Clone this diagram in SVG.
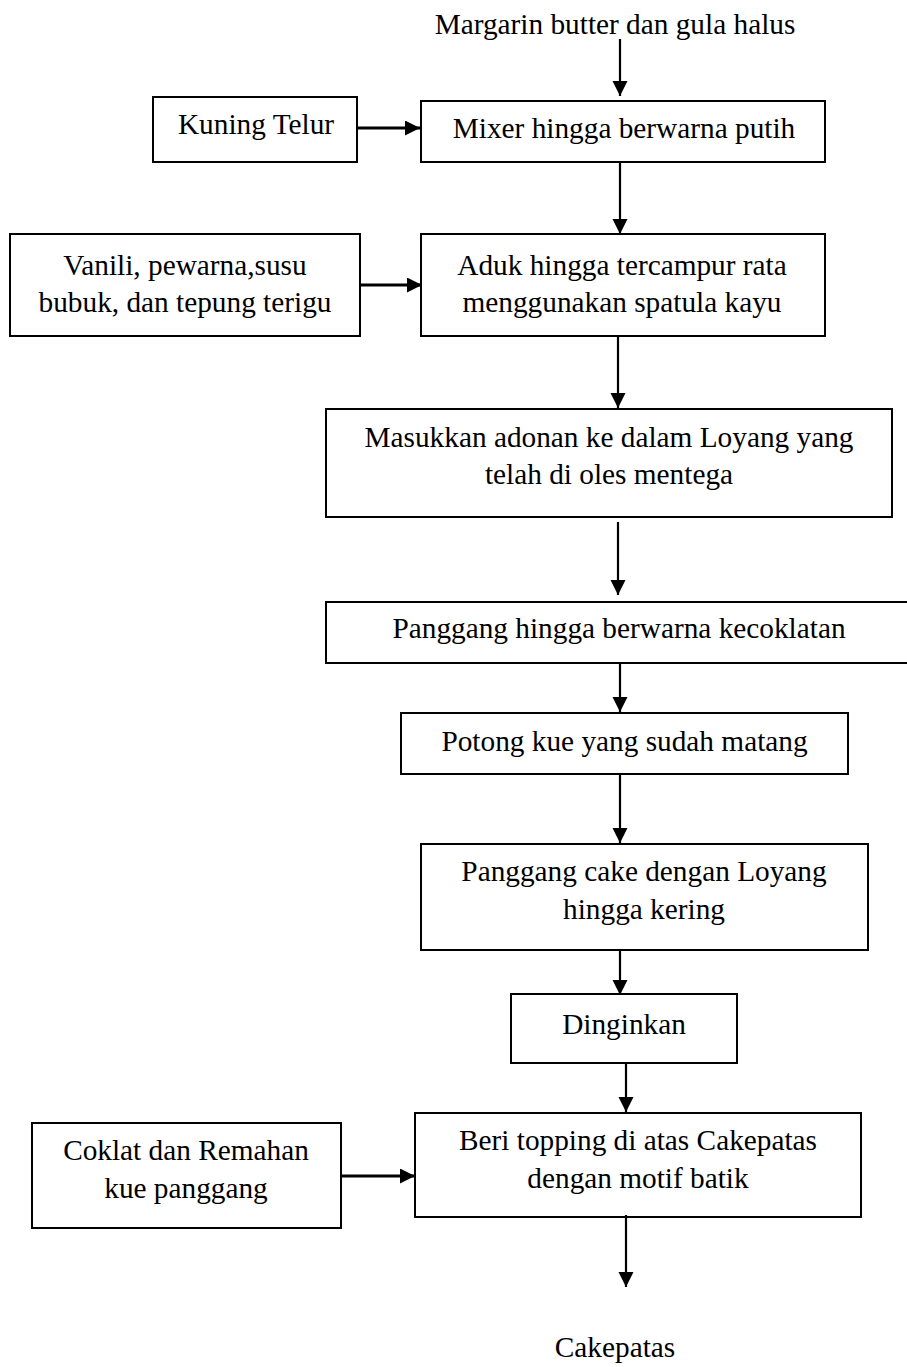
<svg xmlns="http://www.w3.org/2000/svg" width="907" height="1367" viewBox="0 0 907 1367">
<style>
rect{fill:#fff;stroke:#000;stroke-width:2}
text{font-family:"Liberation Serif","Times New Roman",serif;font-size:29.3px;fill:#000;text-anchor:middle}
.c line{stroke:#000;stroke-width:2.2;marker-end:url(#ah)}
.c line.h{stroke-width:3}
</style>
<defs>
<marker id="ah" markerUnits="userSpaceOnUse" markerWidth="16" markerHeight="16" refX="15" refY="7.5" orient="auto">
<path d="M0,0 L15,7.5 L0,15 z" fill="#000"/>
</marker>
</defs>
<rect x="0" y="0" width="907" height="1367" style="stroke:none"/>
<g id="start"><text x="615" y="34">Margarin butter dan gula halus</text></g>
<g id="kuning"><rect x="153" y="97" width="204" height="65"/><text x="256" y="134">Kuning Telur</text></g>
<g id="mixer"><rect x="421" y="101" width="404" height="61"/><text x="624" y="138">Mixer hingga berwarna putih</text></g>
<g id="vanili"><rect x="10" y="234" width="350" height="102"/><text x="185" y="275">Vanili, pewarna,susu</text><text x="185" y="312">bubuk, dan tepung terigu</text></g>
<g id="aduk"><rect x="421" y="234" width="404" height="102"/><text x="622" y="275">Aduk hingga tercampur rata</text><text x="622" y="312">menggunakan spatula kayu</text></g>
<g id="masukkan"><rect x="326" y="409" width="566" height="108"/><text x="609" y="447">Masukkan adonan ke dalam Loyang yang</text><text x="609" y="484">telah di oles mentega</text></g>
<g id="panggang1"><rect x="326" y="602" width="600" height="61"/><text x="619" y="638">Panggang hingga berwarna kecoklatan</text></g>
<g id="potong"><rect x="401" y="713" width="447" height="61"/><text x="624.5" y="751">Potong kue yang sudah matang</text></g>
<g id="panggang2"><rect x="421" y="844" width="447" height="106"/><text x="644" y="881">Panggang cake dengan Loyang</text><text x="644" y="919">hingga kering</text></g>
<g id="dinginkan"><rect x="511" y="994" width="226" height="69"/><text x="624" y="1034">Dinginkan</text></g>
<g id="coklat"><rect x="32" y="1123" width="309" height="105"/><text x="186" y="1160">Coklat dan Remahan</text><text x="186" y="1198">kue panggang</text></g>
<g id="beri"><rect x="415" y="1113" width="446" height="104"/><text x="638" y="1150">Beri topping di atas Cakepatas</text><text x="638" y="1188">dengan motif batik</text></g>
<g id="end"><text x="615" y="1357">Cakepatas</text></g>
<g id="connectors" class="c">
<line x1="620" y1="39" x2="620" y2="96"/>
<line class="h" x1="357" y1="128" x2="420" y2="128"/>
<line x1="620" y1="162" x2="620" y2="234"/>
<line class="h" x1="360" y1="285" x2="422" y2="285"/>
<line x1="618" y1="336" x2="618" y2="408"/>
<line x1="618" y1="522" x2="618" y2="595"/>
<line x1="620" y1="663" x2="620" y2="712"/>
<line x1="620" y1="774" x2="620" y2="843"/>
<line x1="620" y1="950" x2="620" y2="995"/>
<line x1="626" y1="1063" x2="626" y2="1112"/>
<line class="h" x1="341" y1="1176" x2="415" y2="1176"/>
<line x1="626" y1="1215" x2="626" y2="1287"/>
</g>
</svg>
